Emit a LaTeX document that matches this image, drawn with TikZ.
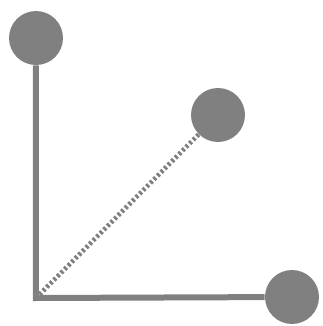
\documentclass[tikz,border=0pt]{standalone}
\usepackage{tikz}
\usetikzlibrary{arrows.meta,calc,positioning}
\definecolor{ballgray}{RGB}{128,128,128}
\tikzset{
  ball/.style   = {circle, fill=ballgray, inner sep=0pt, minimum size=40.5pt},
  leg/.style    = {draw=ballgray, line width=4.5pt, line join=miter},
  dotleg/.style = {draw=ballgray, line width=3.5pt, dash pattern=on 2pt off 1.8pt},
}
\begin{document}
\begin{tikzpicture}[x=0.75pt,y=0.75pt]
  \useasboundingbox (0,0) rectangle (323,326);
  \coordinate (o) at (36,28);
  \node[ball] (top) at (36,288) {};
  \node[ball] (mid) at (218,211) {};
  \node[ball] (rgt) at (292,29) {};
  \draw[leg] (top) -- (o) -- (rgt);
  \draw[dotleg] (o) -- (mid);
\end{tikzpicture}
\end{document}
